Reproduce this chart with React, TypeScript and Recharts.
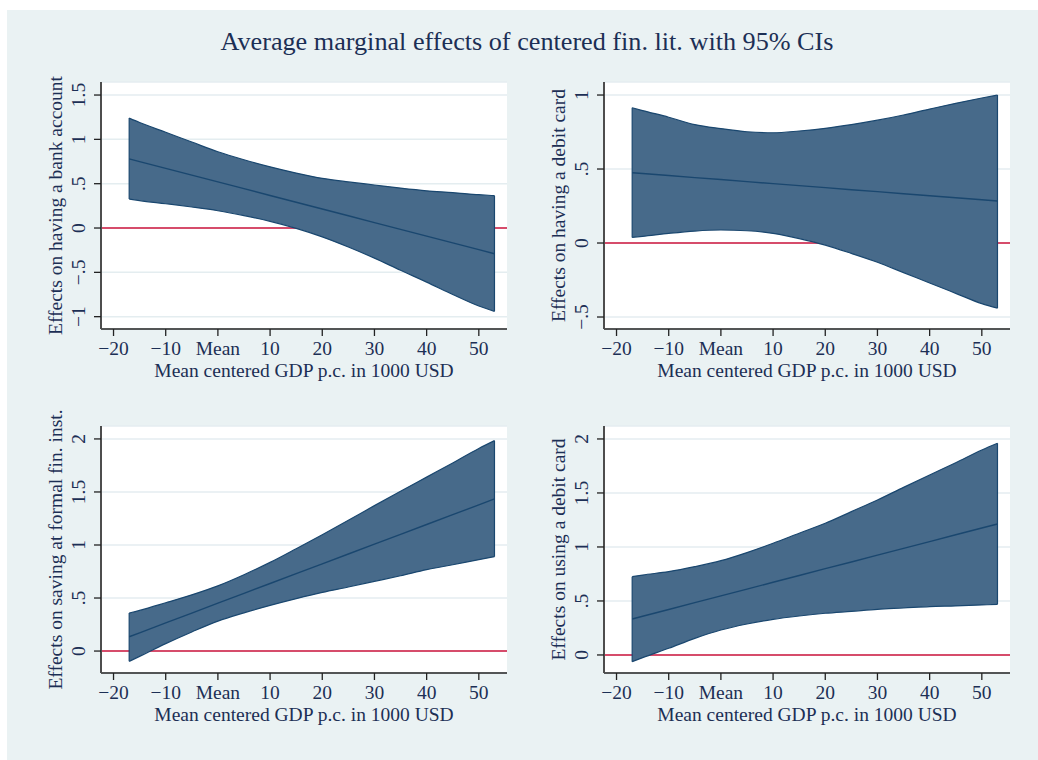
import {
  ComposedChart,
  Area,
  Line,
  XAxis,
  YAxis,
  CartesianGrid,
  ReferenceLine,
  Label,
} from "recharts";

// Mean centered GDP p.c. (1000 USD) where the margins were evaluated
const gdpCentered = [-17, -15, -10, -5, 0, 5, 10, 15, 20, 25, 30, 35, 40, 45, 50, 53];
const xTicks = [-20, -10, 0, 10, 20, 30, 40, 50];

// having a bank account
const bankHigh = [1.24, 1.19, 1.08, 0.97, 0.86, 0.77, 0.69, 0.62, 0.56, 0.52, 0.485, 0.45, 0.42, 0.4, 0.376, 0.365];
const bankMid = [0.78, 0.749, 0.673, 0.596, 0.52, 0.444, 0.367, 0.291, 0.214, 0.138, 0.061, -0.015, -0.092, -0.168, -0.244, -0.29];
const bankLow = [0.327, 0.31, 0.274, 0.237, 0.195, 0.14, 0.075, -0.004, -0.1, -0.214, -0.34, -0.477, -0.61, -0.75, -0.88, -0.94];
const bankTicks = [-1, -0.5, 0, 0.5, 1, 1.5];

// having a debit card
const debitHigh = [0.914, 0.895, 0.85, 0.8, 0.773, 0.752, 0.745, 0.757, 0.775, 0.8, 0.83, 0.865, 0.905, 0.944, 0.98, 1.0];
const debitMid = [0.475, 0.47, 0.456, 0.442, 0.429, 0.415, 0.401, 0.388, 0.374, 0.36, 0.347, 0.333, 0.319, 0.306, 0.292, 0.284];
const debitLow = [0.038, 0.045, 0.065, 0.081, 0.088, 0.083, 0.065, 0.03, -0.014, -0.07, -0.13, -0.2, -0.27, -0.34, -0.41, -0.44];
const debitTicks = [-0.5, 0, 0.5, 1];

// saving at formal fin. inst.
const savingHigh = [0.358, 0.383, 0.455, 0.53, 0.615, 0.72, 0.836, 0.965, 1.097, 1.233, 1.371, 1.506, 1.64, 1.774, 1.91, 1.984];
const savingMid = [0.135, 0.172, 0.265, 0.358, 0.451, 0.544, 0.637, 0.73, 0.822, 0.915, 1.008, 1.1, 1.193, 1.286, 1.378, 1.434];
const savingLow = [-0.097, -0.05, 0.07, 0.18, 0.282, 0.36, 0.43, 0.494, 0.553, 0.604, 0.657, 0.71, 0.767, 0.814, 0.862, 0.89];
const savingTicks = [0, 0.5, 1, 1.5, 2];

// using a debit card
const usingHigh = [0.725, 0.74, 0.772, 0.818, 0.873, 0.948, 1.034, 1.127, 1.219, 1.327, 1.435, 1.552, 1.667, 1.78, 1.898, 1.96];
const usingMid = [0.333, 0.358, 0.421, 0.484, 0.547, 0.61, 0.673, 0.736, 0.799, 0.861, 0.924, 0.987, 1.05, 1.113, 1.176, 1.213];
const usingLow = [-0.062, -0.025, 0.062, 0.154, 0.231, 0.287, 0.33, 0.361, 0.386, 0.404, 0.423, 0.435, 0.448, 0.454, 0.463, 0.469];
const usingTicks = [0, 0.5, 1, 1.5, 2];

const FONT = '"Liberation Serif", "Times New Roman", serif';
const NAVY = "#1a476f";
const BAND = "#476a8a";
const TEXT = "#1c2f55";
const ZERO_RED = "#c8103a";
const GRID = "#e4edf0";

const PLOT_W = 406;
const PLOT_H = 247;
const M_TOP = 40;

const fmtX = (v: number) => (v === 0 ? "Mean" : v < 0 ? "\u2212" + Math.abs(v) : String(v));
const fmtY = (v: number) => {
  const s = String(Math.abs(v)).replace(/^0\./, ".");
  return v < 0 ? "\u2212" + s : s;
};

const XTick = ({ x, y, payload }: any) => (
  <text x={x} y={y + 19} textAnchor="middle" fontSize={19.5} fontFamily={FONT} fill={TEXT}>
    {fmtX(payload.value)}
  </text>
);

const YTick = ({ x, y, payload }: any) => {
  const bx = x - 9;
  return (
    <text
      x={bx}
      y={y}
      textAnchor="middle"
      transform={`rotate(-90 ${bx} ${y})`}
      fontSize={19.5}
      fontFamily={FONT}
      fill={TEXT}
    >
      {fmtY(payload.value)}
    </text>
  );
};

type PanelProps = {
  left: number;
  top: number;
  yLabel: string;
  low: number[];
  mid: number[];
  high: number[];
  yDomain: [number, number];
  yTicks: number[];
};

const Panel = ({ left, top, yLabel, low, mid, high, yDomain, yTicks }: PanelProps) => {
  const data = gdpCentered.map((x, i) => ({ x, band: [low[i], high[i]], mid: mid[i] }));
  const last = gdpCentered.length - 1;
  const zeroIdx = yTicks.indexOf(0);

  // grid lines sit under the band; the one at zero is the red reference
  const gridLine = (props: any) => {
    const { x1, x2, y1, y2, index } = props;
    const isZero = index === zeroIdx;
    return (
      <line
        key={`h-${index}`}
        x1={x1}
        x2={x2}
        y1={y1}
        y2={y2}
        stroke={isZero ? ZERO_RED : GRID}
        strokeWidth={isZero ? 1.6 : 1.5}
      />
    );
  };

  return (
    <div style={{ position: "absolute", left: left - 100, top: top - M_TOP }}>
      <ComposedChart
        width={PLOT_W + 110}
        height={PLOT_H + M_TOP + 70}
        data={data}
        margin={{ top: M_TOP, right: 10, left: 10, bottom: 10 }}
      >
        <CartesianGrid vertical={false} horizontal={gridLine} fill="#ffffff" />
        <XAxis
          dataKey="x"
          type="number"
          domain={[-22.4, 55.4]}
          ticks={xTicks}
          allowDataOverflow
          height={60}
          tickSize={7}
          tickMargin={0}
          tick={<XTick />}
          axisLine={{ stroke: "#222", strokeWidth: 1.3 }}
          tickLine={{ stroke: "#222", strokeWidth: 1.3 }}
        >
          <Label
            content={({ viewBox }: any) => (
              <text
                x={viewBox.x + viewBox.width / 2}
                y={viewBox.y + 48}
                textAnchor="middle"
                fontSize={19.5}
                fontFamily={FONT}
                fill={TEXT}
              >
                Mean centered GDP p.c. in 1000 USD
              </text>
            )}
          />
        </XAxis>
        <YAxis
          type="number"
          domain={yDomain}
          ticks={yTicks}
          allowDataOverflow
          width={90}
          tickSize={7}
          tickMargin={0}
          tick={<YTick />}
          axisLine={{ stroke: "#4d4d4d", strokeWidth: 2 }}
          tickLine={{ stroke: "#222", strokeWidth: 1.3 }}
        >
          <Label
            content={({ viewBox }: any) => {
              const lx = viewBox.x + viewBox.width - 39;
              const ly = viewBox.y + viewBox.height / 2;
              return (
                <text
                  x={lx}
                  y={ly}
                  textAnchor="middle"
                  transform={`rotate(-90 ${lx} ${ly})`}
                  fontSize={19.5}
                  fontFamily={FONT}
                  fill={TEXT}
                >
                  {yLabel}
                </text>
              );
            }}
          />
        </YAxis>
        <Area
          dataKey="band"
          type="monotone"
          fill={BAND}
          fillOpacity={1}
          stroke={NAVY}
          strokeWidth={1.2}
          dot={false}
          activeDot={false}
          isAnimationActive={false}
        />
        {/* closing edges of the confidence band */}
        <ReferenceLine
          segment={[
            { x: gdpCentered[0], y: low[0] },
            { x: gdpCentered[0], y: high[0] },
          ]}
          stroke={NAVY}
          strokeWidth={1.2}
        />
        <ReferenceLine
          segment={[
            { x: gdpCentered[last], y: low[last] },
            { x: gdpCentered[last], y: high[last] },
          ]}
          stroke={NAVY}
          strokeWidth={1.2}
        />
        <Line
          dataKey="mid"
          type="linear"
          stroke={NAVY}
          strokeWidth={1.4}
          dot={false}
          activeDot={false}
          isAnimationActive={false}
        />
      </ComposedChart>
    </div>
  );
};

export default function App() {
  return (
    <div style={{ position: "absolute", left: 0, top: 0, width: 1038, height: 760, background: "#ffffff", overflow: "hidden" }}>
      <div style={{ position: "absolute", left: 7, top: 10, width: 1031, height: 750, background: "#eaf2f3" }} />
      <svg width={1038} height={70} style={{ position: "absolute", left: 0, top: 0 }}>
        <text x={527} y={50} textAnchor="middle" fontSize={26.2} fontFamily={FONT} fill={TEXT}>
          Average marginal effects of centered fin. lit. with 95% CIs
        </text>
      </svg>
      <Panel left={101} top={82} yLabel="Effects on having a bank account" low={bankLow} mid={bankMid} high={bankHigh} yDomain={[-1.139, 1.647]} yTicks={bankTicks} />
      <Panel left={604} top={82} yLabel="Effects on having a debit card" low={debitLow} mid={debitMid} high={debitHigh} yDomain={[-0.581, 1.088]} yTicks={debitTicks} />
      <Panel left={101} top={426} yLabel="Effects on saving at formal fin. inst." low={savingLow} mid={savingMid} high={savingHigh} yDomain={[-0.207, 2.122]} yTicks={savingTicks} />
      <Panel left={604} top={426} yLabel="Effects on using a debit card" low={usingLow} mid={usingMid} high={usingHigh} yDomain={[-0.167, 2.12]} yTicks={usingTicks} />
    </div>
  );
}
